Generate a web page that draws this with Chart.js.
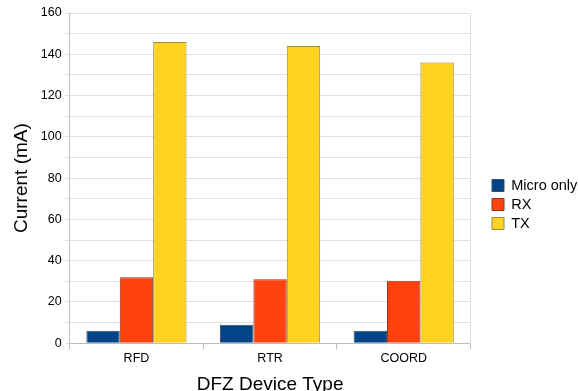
<!DOCTYPE html>
<html>
<head>
<meta charset="utf-8">
<style>
  html, body { margin: 0; padding: 0; background: #fff; overflow: hidden; }
  #wrap { width: 578px; height: 396px; }
</style>
</head>
<body>
<div id="wrap"><canvas id="myChart"></canvas></div>

<script src="https://cdn.jsdelivr.net/npm/chart.js"></script>
<script>
  // device types and measured current per mode (mA)
  const deviceTypes = ['RFD', 'RTR', 'COORD'];
  const microOnly = [6, 9, 6];
  const rxCurrent = [32, 31, 30.3];
  const txCurrent = [146, 144, 136];

  Chart.defaults.font.family = '"Liberation Sans", Arial, sans-serif';
  Chart.defaults.color = '#000';

  const ctx = document.getElementById('myChart');
  new Chart(ctx, {
    type: 'bar',
    data: {
      labels: deviceTypes,
      datasets: [
        {
          label: 'Micro only',
          data: microOnly,
          backgroundColor: '#004586',
          borderColor: '#3a4f6a',
          borderWidth: 1,
        },
        {
          label: 'RX',
          data: rxCurrent,
          backgroundColor: '#ff420e',
          borderColor: '#8a3a1e',
          borderWidth: 1,
        },
        {
          label: 'TX',
          data: txCurrent,
          backgroundColor: '#ffd320',
          borderColor: '#9a8a3a',
          borderWidth: 1,
        },
      ],
    },
    options: {
      responsive: true,
      maintainAspectRatio: false,
      animation: false,
      datasets: {
        bar: {
          categoryPercentage: 0.75,
          barPercentage: 1.0,
        }
      },
      layout: {
        padding: { left: 10, right: -5, top: 13, bottom: 0 }
      },
      plugins: {
        tooltip: { enabled: false },
        legend: {
          position: 'right',
          align: 'center',
          labels: {
            boxWidth: 12,
            boxHeight: 12,
            padding: 4.5,
            font: { size: 14.5 },
          }
        }
      },
      scales: {
        x: {
          grid: {
            drawOnChartArea: false,
            tickLength: 6,
            color: '#bdbdbd',
          },
          border: { color: '#bdbdbd' },
          ticks: { font: { size: 12.5 }, padding: 2 },
          title: {
            display: true,
            text: 'DFZ Device Type',
            font: { size: 19 },
            padding: { top: 5, bottom: 0 },
          }
        },
        y: {
          min: 0,
          max: 160,
          grid: {
            color: '#e0e0e0',
            tickLength: 4,
          },
          border: { color: '#bdbdbd' },
          ticks: {
            stepSize: 10,
            font: { size: 12.5 },
            padding: 4,
            callback: (v) => (v % 20 === 0 ? v : ''),
          },
          title: {
            display: true,
            text: 'Current (mA)',
            font: { size: 19 },
            padding: { top: 0, bottom: 4 },
          }
        },
        // empty right-hand axis: frame line on the right and a gap before the legend
        gap: {
          position: 'right',
          display: true,
          grid: { display: false },
          border: { display: true, color: '#dcdcdc' },
          ticks: { display: false },
          afterFit: (scale) => { scale.width = 17; },
        }
      }
    }
  });
</script>
</body>
</html>
